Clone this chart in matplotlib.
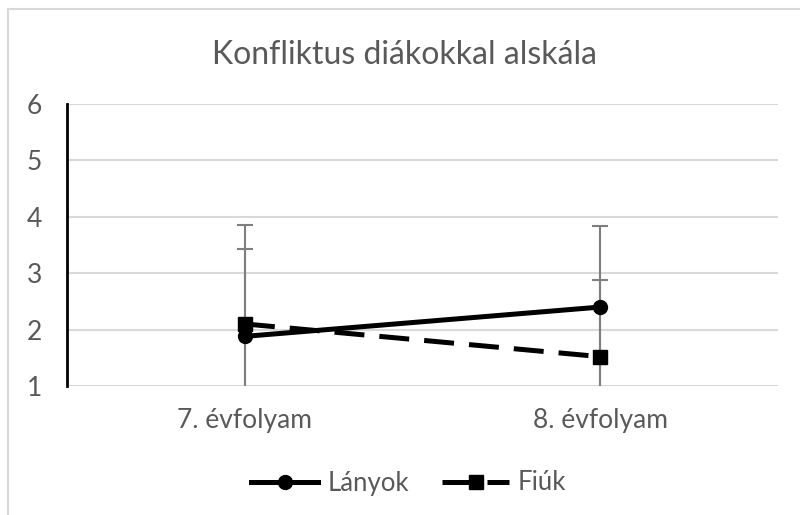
import matplotlib.pyplot as plt
from matplotlib.patches import Rectangle

# Data
categories = ['7. évfolyam', '8. évfolyam']
lanyok = [1.88, 2.40]
fiuk = [2.10, 1.52]
lanyok_err = [1.55, 1.44]
fiuk_err = [1.75, 1.36]
yticks = [1, 2, 3, 4, 5, 6]
ytick_labels = ['1', '2', '3', '4', '5', '6']

plt.rcParams['font.family'] = ['Lato', 'DejaVu Sans']
text_color = '#595959'

fig = plt.figure(figsize=(8, 5.15), dpi=100)
ax = fig.add_axes([0.084, 0.2505, 0.8885, 0.5475])

# chart area border (cropped at right and bottom)
fig.patches.append(Rectangle((8 / 800, -0.1), 1.2, 1 - 9 / 515 + 0.1,
                             transform=fig.transFigure, fill=False,
                             edgecolor='#d9d9d9', linewidth=1.5))

x = list(range(len(categories)))

ax.errorbar(x, lanyok, yerr=lanyok_err, fmt='none', ecolor='#7f7f7f',
            elinewidth=1.5, capsize=6, capthick=1.5, zorder=2)
ax.errorbar(x, fiuk, yerr=fiuk_err, fmt='none', ecolor='#7f7f7f',
            elinewidth=1.5, capsize=6, capthick=1.5, zorder=2)

ax.plot(x, lanyok, color='black', linewidth=3.6, marker='o', markersize=10,
        label='Lányok', zorder=3)
ax.plot(x, fiuk, color='black', linewidth=3.6, linestyle=(0, (6, 3)),
        marker='s', markersize=10, label='Fiúk', zorder=3)

ax.set_xlim(-0.5, 1.5)
ax.set_ylim(1, 6)
ax.set_xticks(x)
ax.set_xticklabels(categories)
ax.set_yticks(yticks)
ax.set_yticklabels(ytick_labels)
ax.tick_params(axis='x', length=0, labelsize=19, colors=text_color, pad=16)
ax.tick_params(axis='y', length=0, labelsize=19, colors=text_color, pad=18)

ax.grid(axis='y', color='#d9d9d9', linewidth=1.5)
ax.set_axisbelow(True)
for side in ['top', 'right', 'bottom']:
    ax.spines[side].set_visible(False)
ax.spines['left'].set_color('black')
ax.spines['left'].set_linewidth(2)
ax.spines['left'].set_zorder(4)

fig.text(0.5 + 4 / 800, 1 - 55 / 515, 'Konfliktus diákokkal alskála',
         ha='center', va='center', fontsize=23, color=text_color)

ax.legend(loc='center', bbox_to_anchor=(0.5 + 9 / 800, 1 - 483 / 515),
          bbox_transform=fig.transFigure, ncol=2, frameon=False,
          fontsize=18.5, labelcolor=text_color, handlelength=2.6,
          handletextpad=0.35, columnspacing=1.3)

fig.savefig('out.png', dpi=100)
